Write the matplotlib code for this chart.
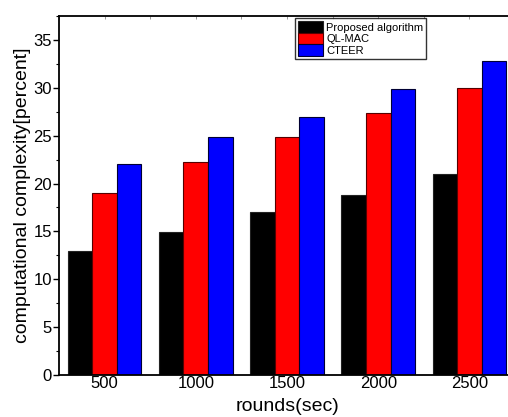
import matplotlib.pyplot as plt
import numpy as np
from matplotlib.ticker import MultipleLocator

plt.rcParams["font.family"] = ["Liberation Sans", "DejaVu Sans"]

rounds = ["500", "1000", "1500", "2000", "2500"]
proposed = [13.0, 14.9, 17.0, 18.8, 21.0]
ql_mac = [19.0, 22.3, 24.9, 27.4, 30.0]
cteer = [22.0, 24.9, 27.0, 29.9, 32.8]

fig = plt.figure(figsize=(5.08, 4.17), dpi=100)
ax = fig.add_axes([0.116, 0.1007, 0.898, 0.861])

x = np.arange(len(rounds))
w = 0.27
ax.bar(x - w, proposed, w, color="black", edgecolor="#222222", linewidth=0.8, label="Proposed algorithm")
ax.bar(x, ql_mac, w, color="red", edgecolor="#550000", linewidth=0.8, label="QL-MAC")
ax.bar(x + w, cteer, w, color="blue", edgecolor="#000033", linewidth=0.8, label="CTEER")

ax.set_xlim(-0.5, len(rounds) - 0.5)
ax.set_ylim(0, 37.5)
ax.set_xticks(x)
ax.set_xticklabels(rounds)
ax.yaxis.set_major_locator(MultipleLocator(5))
ax.yaxis.set_minor_locator(MultipleLocator(2.5))
ax.xaxis.set_minor_locator(MultipleLocator(0.5))

for s in ax.spines.values():
    s.set_linewidth(1.3)

ax.tick_params(axis="y", which="major", direction="out", length=4, width=1, labelsize=12, pad=1)
ax.tick_params(axis="y", which="minor", direction="out", length=2.5, width=0.8)
ax.tick_params(axis="x", which="both", bottom=False, top=True, direction="in",
               length=2, width=0.6, labelsize=12, pad=1, color="#888888")

ax.set_xlabel("rounds(sec)", fontsize=14, labelpad=5)
ax.set_ylabel("computational complexity[percent]", fontsize=14, labelpad=2)

leg = ax.legend(loc="upper left", bbox_to_anchor=(0.517, 0.994), fontsize=8,
                frameon=True, fancybox=False, handlelength=2.3, handleheight=1.25,
                borderpad=0.25, labelspacing=0.0, handletextpad=0.3, borderaxespad=0)
leg.get_frame().set_edgecolor("black")
leg.get_frame().set_linewidth(1.0)

fig.savefig("out.png", dpi=100)
